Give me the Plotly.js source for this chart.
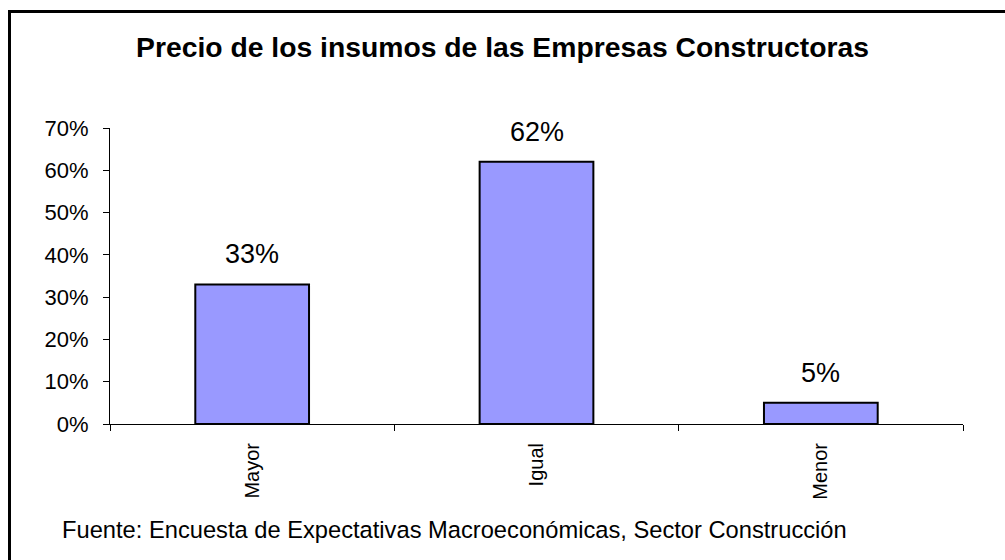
<!DOCTYPE html>
<html>
<head>
<meta charset="utf-8">
<script src="https://cdn.plot.ly/plotly-3.0.1.min.js"></script>
<style>
  html, body { margin: 0; padding: 0; background: #fff; overflow: hidden; }
  #wrap { position: relative; width: 1005px; height: 560px; overflow: hidden; }
  #chart { position: absolute; left: 0; top: 0; width: 1005px; height: 560px; }
  #frame { position: absolute; left: 8px; top: 10px; width: 1100px; height: 700px;
           border: 3px solid #000; pointer-events: none; box-sizing: border-box; }
</style>
</head>
<body>
<div id="wrap">
  <div id="chart"></div>
  <div id="frame"></div>
</div>
<script>
const categories = ["Mayor", "Igual", "Menor"];
const values = [0.33, 0.62, 0.05];
const labels = ["33%", "62%", "5%"];
const chartTitle = "Precio de los insumos de las Empresas Constructoras";
const sourceNote = "Fuente: Encuesta de Expectativas Macroeconómicas, Sector Construcción";

const font = "Arial, 'Liberation Sans', sans-serif";
const W = 1005, H = 560, L = 110, R = 42, T = 128, B = 136;
const PW = W - L - R, PH = H - T - B;

const trace = {
  type: "bar",
  x: categories,
  y: values,
  marker: { color: "#9999FF", line: { color: "#000", width: 2 } },
  hoverinfo: "none"
};

const annotations = categories.map((c, i) => ({
  x: c, y: values[i], xref: "x", yref: "y",
  text: labels[i], showarrow: false,
  yanchor: "bottom", yshift: 13,
  font: { family: font, size: 27, color: "#000" }
}));
annotations.push({
  text: sourceNote, xref: "paper", yref: "paper",
  x: (60 - L) / PW, y: (H - B - 530) / PH, xanchor: "left", yanchor: "middle",
  showarrow: false, font: { family: font, size: 23.7, color: "#000" }
});

const layout = {
  width: W, height: H,
  margin: { l: L, r: R, t: T, b: B },
  paper_bgcolor: "#fff", plot_bgcolor: "#fff",
  showlegend: false,
  bargap: 0.6,
  font: { family: font, color: "#000" },
  title: {
    text: "<b>" + chartTitle + "</b>",
    x: 0.5, xref: "container", xanchor: "center",
    y: 1 - 47 / H, yref: "container", yanchor: "middle",
    font: { family: font, size: 28.3, color: "#000" }
  },
  xaxis: {
    type: "category",
    showline: true, linecolor: "#000", linewidth: 1,
    ticks: "outside", tickson: "boundaries", ticklen: 6, tickcolor: "#000", tickwidth: 1,
    tickangle: -90, ticklabelstandoff: 10,
    tickfont: { family: font, size: 20, color: "#000" },
    showgrid: false, zeroline: false, fixedrange: true
  },
  yaxis: {
    range: [0, 0.7], dtick: 0.1, tick0: 0, tickformat: ".0%",
    showline: true, linecolor: "#000", linewidth: 1,
    ticks: "outside", ticklen: 6, tickcolor: "#000", tickwidth: 1,
    ticklabelstandoff: 10,
    tickfont: { family: font, size: 22, color: "#000" },
    showgrid: false, zeroline: false, fixedrange: true
  },
  annotations: annotations
};

Plotly.newPlot("chart", [trace], layout, { staticPlot: true, displayModeBar: false });
</script>
</body>
</html>
